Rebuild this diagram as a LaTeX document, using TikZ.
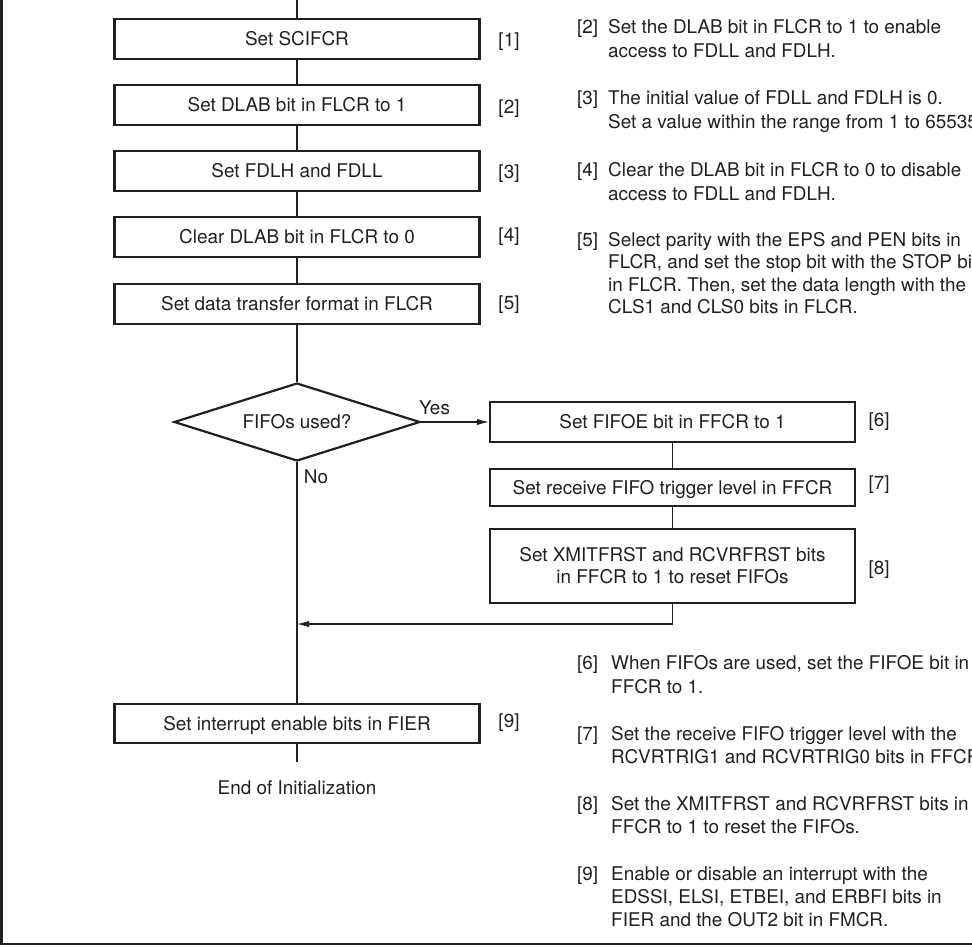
\documentclass[tikz,border=0pt]{standalone}
\usepackage{fontspec}
\setmainfont{TeX Gyre Heros}
\usetikzlibrary{shapes.geometric,arrows.meta}
\definecolor{ink}{HTML}{231F20}
\begin{document}
\begin{tikzpicture}[x=1pt,y=-1pt,
  every node/.style={font=\fontsize{18.9}{24}\selectfont, text=ink},
  box/.style={draw=ink, line width=2.2pt, minimum width=365pt, minimum height=40pt,
    inner sep=0pt, text height=13.5pt, text depth=0pt},
  dec/.style={draw=ink, line width=2.2pt, diamond, minimum width=246pt, minimum height=78pt,
    aspect=3.1, inner sep=0pt, text height=13.5pt, text depth=0pt},
  conn/.style={draw=ink, line width=1.1pt},
  arr/.style={conn, -{Latex[length=12pt,width=6.5pt]}},
  lbl/.style={inner sep=0pt, anchor=center},
  txt/.style={inner sep=0pt, anchor=base west}
]
\useasboundingbox (0,0) rectangle (972,946);

% frame
\draw[ink, line width=3pt] (1.5,0) -- (1.5,944);
\draw[ink, line width=2.2pt] (0,944) -- (980,944);

% main column
\coordinate (top) at (297,0);
\node[box] (b1) at (297,39)  {Set SCIFCR};
\node[box] (b2) at (297,105) {Set DLAB bit in FLCR to 1};
\node[box] (b3) at (297,171) {Set FDLH and FDLL};
\node[box] (b4) at (297,237) {Clear DLAB bit in FLCR to 0};
\node[box] (b5) at (297,304) {Set data transfer format in FLCR};
\node[dec] (d)  at (297,422) {FIFOs used?};
\node[box] (b6) at (672.5,422) {Set FIFOE bit in FFCR to 1};
\node[box, minimum height=37pt] (b7) at (672.5,487.5) {Set receive FIFO trigger level in FFCR};
\node[draw=ink, line width=2.2pt, minimum width=365pt, minimum height=74pt, inner sep=0pt,
  align=center, font=\fontsize{18.9}{22}\selectfont] (b8) at (672.5,566)
  {Set XMITFRST and RCVRFRST bits\\in FFCR to 1 to reset FIFOs};
\coordinate (join) at (297,624);
\node[box, minimum height=39pt] (b9) at (297,723.5) {Set interrupt enable bits in FIER};
\coordinate (endp) at (297,762);
\node[lbl] (endtxt) at (297,788) {End of Initialization};

% connectors
\draw[conn] (top) -- (b1);
\draw[conn] (b1) -- (b2);
\draw[conn] (b2) -- (b3);
\draw[conn] (b3) -- (b4);
\draw[conn] (b4) -- (b5);
\draw[conn] (b5) -- (d);
\draw[arr] (d.east) -- (b6.west);
\draw[conn] (b6) -- (b7);
\draw[conn] (b7) -- (b8);
\draw[arr] (b8) |- (join);
\draw[conn] (d) -- (b9);
\draw[conn] (b9) -- (endp);

\node[lbl] (yes) at (434.5,408) {Yes};
\node[lbl] (no) at (316,477) {No};

% step numbers
\node[lbl] (n1) at (509,42)  {[1]};
\node[lbl] (n2) at (509,109) {[2]};
\node[lbl] (n3) at (509,174) {[3]};
\node[lbl] (n4) at (509,237) {[4]};
\node[lbl] (n5) at (509,305) {[5]};
\node[lbl] (n6) at (879,422) {[6]};
\node[lbl] (n7) at (879,485) {[7]};
\node[lbl] (n8) at (879,570) {[8]};
\node[lbl] (n9) at (509,723) {[9]};

% notes, top
\node[txt] (c2) at (577,33) {[2]};
\node[txt] (c2a) at (608,33) {Set the DLAB bit in FLCR to 1 to enable};
\node[txt] (c2b) at (608,57) {access to FDLL and FDLH.};
\node[txt] (c3) at (577,104) {[3]};
\node[txt] (c3a) at (608,104) {The initial value of FDLL and FDLH is 0.};
\node[txt] (c3b) at (608,128) {Set a value within the range from 1 to 65535.};
\node[txt] (c4) at (577,176) {[4]};
\node[txt] (c4a) at (608,176) {Clear the DLAB bit in FLCR to 0 to disable};
\node[txt] (c4b) at (608,200) {access to FDLL and FDLH.};
\node[txt] (c5) at (577,246) {[5]};
\node[txt] (c5a) at (608,246) {Select parity with the EPS and PEN bits in};
\node[txt] (c5b) at (608,268.5) {FLCR, and set the stop bit with the STOP bits};
\node[txt] (c5c) at (608,291) {in FLCR. Then, set the data length with the};
\node[txt] (c5d) at (608,313) {CLS1 and CLS0 bits in FLCR.};

% notes, bottom
\node[txt] (c6) at (577,669) {[6]};
\node[txt] (c6a) at (611,669) {When FIFOs are used, set the FIFOE bit in};
\node[txt] (c6b) at (611,693) {FFCR to 1.};
\node[txt] (c7) at (577,740) {[7]};
\node[txt] (c7a) at (611,740) {Set the receive FIFO trigger level with the};
\node[txt] (c7b) at (611,763) {RCVRTRIG1 and RCVRTRIG0 bits in FFCR.};
\node[txt] (c8) at (577,810) {[8]};
\node[txt] (c8a) at (611,810) {Set the XMITFRST and RCVRFRST bits in};
\node[txt] (c8b) at (611,833) {FFCR to 1 to reset the FIFOs.};
\node[txt] (c9) at (577,880) {[9]};
\node[txt] (c9a) at (611,880) {Enable or disable an interrupt with the};
\node[txt] (c9b) at (611,903) {EDSSI, ELSI, ETBEI, and ERBFI bits in};
\node[txt] (c9c) at (611,926) {FIER and the OUT2 bit in FMCR.};
\end{tikzpicture}
\end{document}
